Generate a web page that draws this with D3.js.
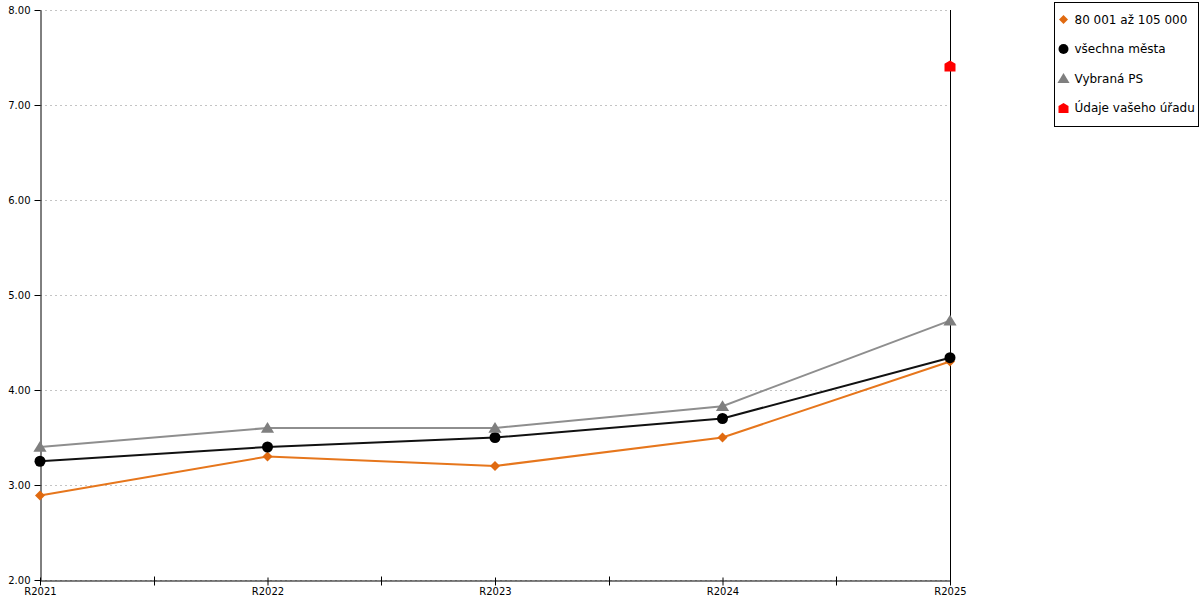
<!DOCTYPE html>
<html>
<head>
<meta charset="utf-8">
<script src="https://cdn.jsdelivr.net/npm/d3@7"></script>
<style>
  body { margin: 0; background: #fff; }
  svg text { font-family: "DejaVu Sans", Verdana, sans-serif; }
</style>
</head>
<body>
<svg id="chart" width="1200" height="600"></svg>
<script>
// Data
const years = ["R2021", "R2022", "R2023", "R2024", "R2025"];
const sizeGroup = [2.89, 3.30, 3.20, 3.50, 4.30];     // 80 001 až 105 000
const allCities = [3.25, 3.40, 3.50, 3.70, 4.34];     // všechna města
const selectedPS = [3.40, 3.60, 3.60, 3.83, 4.73];    // Vybraná PS
const yourOffice = [null, null, null, null, 7.41];    // Údaje vašeho úřadu
const yTicks = [2, 3, 4, 5, 6, 7, 8];

const series = [
    { name: "80 001 až 105 000", values: sizeGroup, line: "#e6761c", fill: "#e06a10", shape: "diamond" },
    { name: "všechna města", values: allCities, line: "#111111", fill: "#000000", shape: "circle" },
    { name: "Vybraná PS", values: selectedPS, line: "#8e8e8e", fill: "#7f7f7f", shape: "triangle" },
    { name: "Údaje vašeho úřadu", values: yourOffice, line: "#ff0000", fill: "#ff0000", shape: "house" }
];

const margin = { left: 40, right: 250, top: 10, bottom: 20 };
const width = 1200, height = 600;

const svg = d3.select("#chart");

const x = d3.scalePoint().domain(years).range([margin.left, width - margin.right]);
const y = d3.scaleLinear().domain([2, 8]).range([height - margin.bottom, margin.top]);

// marker path generators
function markerPath(shape, s) {
    if (shape === "diamond") return `M0,${-s}L${s},0L0,${s}L${-s},0Z`;
    if (shape === "circle") return d3.symbol(d3.symbolCircle, Math.PI * s * s)();
    if (shape === "triangle") return `M0,${-s}L${s * 1.1},${s * 0.8}L${-s * 1.1},${s * 0.8}Z`;
    // house: square with a roof
    return `M0,${-s}L${s},${-s * 0.4}L${s},${s}L${-s},${s}L${-s},${-s * 0.4}Z`;
}
const markerSize = { diamond: 5, circle: 5.5, triangle: 6, house: 5.5 };

// grid lines
svg.append("g")
    .selectAll("line")
    .data(yTicks)
    .join("line")
    .attr("x1", margin.left)
    .attr("x2", width - margin.right)
    .attr("y1", d => y(d) + 0.5)
    .attr("y2", d => y(d) + 0.5)
    .attr("stroke", "#c4c4c4")
    .attr("stroke-dasharray", "2,3");

// y axis
const yAxis = svg.append("g")
    .attr("transform", `translate(${margin.left + 0.5},0)`)
    .call(d3.axisLeft(y).tickValues(yTicks).tickFormat(d3.format(".2f")).tickSize(6).tickSizeOuter(0));
yAxis.select(".domain").attr("stroke", "#000");
yAxis.selectAll("text").attr("font-size", 10).attr("fill", "#000").attr("dy", "0.35em").attr("x", -10);

// right side vertical line
svg.append("line")
    .attr("x1", x(years[years.length - 1]) + 0.5)
    .attr("x2", x(years[years.length - 1]) + 0.5)
    .attr("y1", y(8))
    .attr("y2", y(2) + 5)
    .attr("stroke", "#000");

// x axis
const xAxis = svg.append("g")
    .attr("transform", `translate(0,${y(2) + 0.5})`)
    .call(d3.axisBottom(x).tickSize(5).tickSizeOuter(0));
xAxis.select(".domain").attr("stroke", "#000");
xAxis.selectAll("line").attr("y1", -3);
xAxis.selectAll("text").attr("font-size", 10).attr("fill", "#000").attr("dy", "0.9em").attr("y", 5);

// minor ticks between categories
const mids = d3.pairs(years).map(([a, b]) => (x(a) + x(b)) / 2);
xAxis.selectAll(".minor")
    .data(mids)
    .join("line")
    .attr("class", "minor")
    .attr("x1", d => Math.round(d) + 0.5)
    .attr("x2", d => Math.round(d) + 0.5)
    .attr("y1", -4)
    .attr("y2", 5)
    .attr("stroke", "#000");

// lines
const line = d3.line()
    .defined(d => d.v != null)
    .x(d => x(d.year))
    .y(d => y(d.v));

series.forEach(s => {
    const pts = years.map((yr, i) => ({ year: yr, v: s.values[i] }));
    svg.append("path")
        .datum(pts)
        .attr("fill", "none")
        .attr("stroke", s.line)
        .attr("stroke-width", 2)
        .attr("d", line);
    svg.append("g")
        .selectAll("path")
        .data(pts.filter(d => d.v != null))
        .join("path")
        .attr("transform", d => `translate(${x(d.year)},${y(d.v)})`)
        .attr("d", markerPath(s.shape, markerSize[s.shape]))
        .attr("fill", s.fill);
});

// legend
const legend = svg.append("g").attr("transform", "translate(1054.5,2.5)");
legend.append("rect")
    .attr("width", 144)
    .attr("height", 124)
    .attr("fill", "#fff")
    .attr("stroke", "#000");
series.forEach((s, i) => {
    const g = legend.append("g").attr("transform", `translate(9,${17 + i * 29.5})`);
    g.append("path")
        .attr("d", markerPath(s.shape, markerSize[s.shape] - 0.5))
        .attr("fill", s.fill);
    g.append("text")
        .attr("x", 11)
        .attr("dy", "0.35em")
        .attr("font-size", 12)
        .attr("fill", "#000")
        .text(s.name);
});
</script>
</body>
</html>
